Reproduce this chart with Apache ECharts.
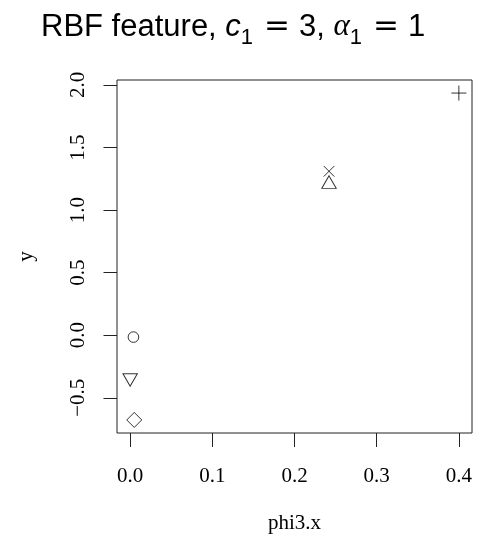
<!DOCTYPE html>
<html>
<head>
<meta charset="utf-8">
<script src="https://cdn.jsdelivr.net/npm/echarts@6/dist/echarts.min.js"></script>
<style>
  html, body { margin: 0; padding: 0; background: #fff; }
  #chart { width: 495px; height: 545px; }
</style>
</head>
<body>
<div id="chart"></div>
<script>
// values, in plotting order (pch 1..6)
var phiX = [0.004, 0.242, 0.400, 0.242, 0.005, 0.000]
var yVals = [-0.015, 1.24, 1.935, 1.31, -0.677, -0.375]
var xTicks = [0.0, 0.1, 0.2, 0.3, 0.4]
var yTicks = [-0.5, 0.0, 0.5, 1.0, 1.5, 2.0]

// R style point shapes: circle, triangle up, plus, cross, diamond, triangle down
var marks = [
  { symbol: 'circle', symbolSize: 10.6, symbolOffset: [0, 0] },
  { symbol: 'triangle', symbolSize: [14.4, 12.5], symbolOffset: [0, 2.1] },
  { symbol: 'path://M0,5L10,5M5,0L5,10', symbolSize: 15, symbolOffset: [0, 0] },
  { symbol: 'path://M0,0L10,10M10,0L0,10', symbolSize: 10.6, symbolOffset: [0, 0] },
  { symbol: 'diamond', symbolSize: 15, symbolOffset: [0, 0] },
  { symbol: 'path://M0,0L2,0L1,1.732Z', symbolSize: [14.4, 12.5], symbolOffset: [0, -2.1] }
]

// R pads the data range by 4% on each side
function padRange (vals) {
  var lo = Math.min.apply(null, vals)
  var hi = Math.max.apply(null, vals)
  var d = (hi - lo) * 0.04
  return [lo - d, hi + d]
}
var xr = padRange(phiX)
var yr = padRange(yVals)

function fmt (v) {
  var s = Math.abs(v).toFixed(1)
  return v < 0 ? '\u2212' + s : s
}

var serif = 'Liberation Serif'
var sans = 'Liberation Sans'
var points = phiX.map(function (x, i) {
  return Object.assign({ value: [x, yVals[i]] }, marks[i])
})

var chart = echarts.init(document.getElementById('chart'), null, { renderer: 'canvas' })
chart.setOption({
  animation: false,
  backgroundColor: '#fff',
  title: {
    left: 41,
    top: 5,
    padding: 0,
    text: '{n|RBF feature, }{i|c}{s|1}{e|=}{n|3, }{a|α}{s|1}{e|=}{n|1}',
    textStyle: {
      fontWeight: 'normal',
      rich: {
        n: { fontFamily: sans, fontWeight: 'normal', fontSize: 31, color: '#000', lineHeight: 44, verticalAlign: 'middle' },
        i: { fontFamily: sans, fontWeight: 'normal', fontStyle: 'italic', fontSize: 31, color: '#000', lineHeight: 44, verticalAlign: 'middle' },
        a: { fontFamily: serif, fontWeight: 'normal', fontStyle: 'italic', fontSize: 31, color: '#000', lineHeight: 44, verticalAlign: 'middle' },
        e: { fontFamily: 'DejaVu Sans', fontWeight: 'normal', fontSize: 31, color: '#000', lineHeight: 44, verticalAlign: 'middle', padding: [0, 9, 0, 11] },
        s: { fontFamily: sans, fontWeight: 'normal', fontSize: 22, color: '#000', lineHeight: 44, verticalAlign: 'bottom' }
      }
    }
  },
  grid: {
    left: 117,
    right: 23,
    top: 80,
    bottom: 112,
    show: true,
    borderColor: '#222',
    borderWidth: 1
  },
  xAxis: {
    type: 'value',
    min: xr[0],
    max: xr[1],
    name: 'phi3.x',
    nameLocation: 'middle',
    nameGap: 80,
    nameTextStyle: { fontFamily: serif, fontSize: 21, color: '#000' },
    axisLine: { show: false, onZero: false },
    splitLine: { show: false },
    axisTick: {
      show: true,
      inside: false,
      length: 14,
      customValues: xTicks,
      lineStyle: { color: '#222', width: 1 }
    },
    axisLabel: {
      margin: 33,
      customValues: xTicks,
      formatter: fmt,
      fontFamily: serif,
      fontSize: 21,
      color: '#000'
    }
  },
  yAxis: {
    type: 'value',
    min: yr[0],
    max: yr[1],
    name: 'y',
    nameLocation: 'middle',
    nameRotate: 90,
    nameGap: 80,
    nameTextStyle: { fontFamily: serif, fontSize: 21, color: '#000' },
    axisLine: { show: false, onZero: false },
    splitLine: { show: false },
    axisTick: {
      show: true,
      inside: false,
      length: 13.5,
      customValues: yTicks,
      lineStyle: { color: '#222', width: 1 }
    },
    axisLabel: {
      margin: 28,
      rotate: 90,
      customValues: yTicks,
      formatter: fmt,
      fontFamily: serif,
      fontSize: 21,
      color: '#000'
    }
  },
  series: [
    {
      type: 'scatter',
      data: points,
      itemStyle: {
        color: 'transparent',
        borderColor: '#000',
        borderWidth: 1
      }
    }
  ]
})
</script>
</body>
</html>
